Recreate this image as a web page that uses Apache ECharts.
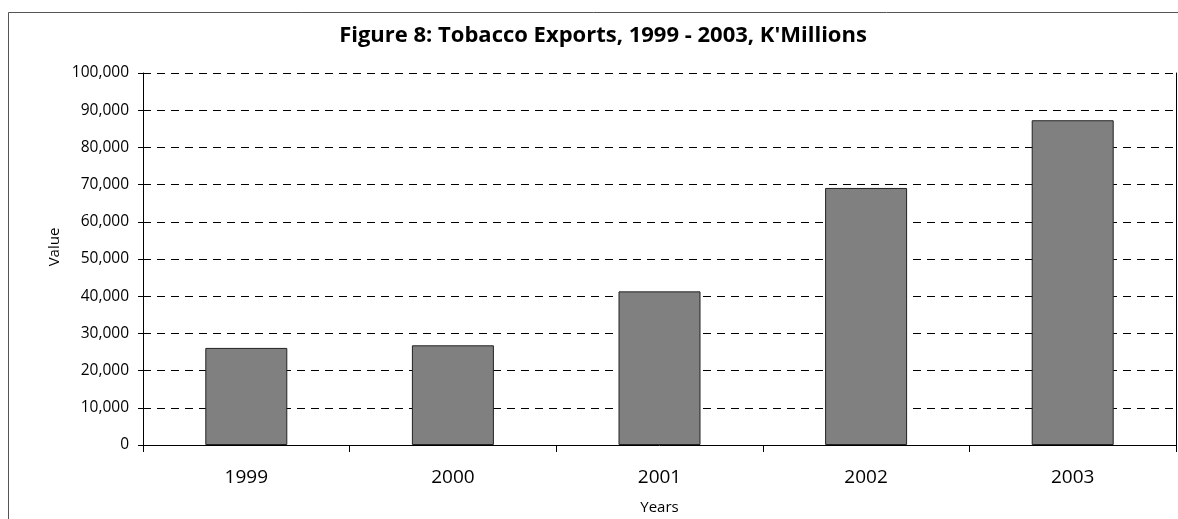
<!DOCTYPE html>
<html>
<head>
<meta charset="utf-8">
<title>Figure 8: Tobacco Exports, 1999 - 2003, K'Millions</title>
<script src="https://cdn.jsdelivr.net/npm/echarts@6/dist/echarts.min.js"></script>
<style>
  html, body { margin: 0; padding: 0; background: #fff; }
  #chart { width: 1178px; height: 519px; }
</style>
</head>
<body>
<div id="chart"></div>
<script>
// Tobacco export values by year (K'Millions)
const years = ['1999', '2000', '2001', '2002', '2003'];
const exportValues = [26100, 26800, 41300, 69100, 87300];
const titleText = "Figure 8: Tobacco Exports, 1999 - 2003, K'Millions";
const yAxisName = 'Value';
const xAxisName = 'Years';

const font = '"Open Sans", "Noto Sans", sans-serif';
const chart = echarts.init(document.getElementById('chart'));

chart.setOption({
  animation: false,
  backgroundColor: '#fff',
  title: {
    text: titleText,
    left: 598,
    textAlign: 'center',
    top: 20,
    textStyle: { fontFamily: font, fontSize: 22, fontWeight: 'bold', color: '#000' }
  },
  graphic: [{
    type: 'rect',
    shape: { x: 8.5, y: 12.5, width: 1200, height: 600 },
    style: { fill: 'none', stroke: '#555', lineWidth: 1 },
    silent: true
  }, {
    // rotated y-axis title
    type: 'text',
    x: 55,
    y: 247,
    rotation: Math.PI / 2,
    style: {
      text: yAxisName,
      fontFamily: font,
      fontSize: 15,
      fill: '#000',
      align: 'center',
      verticalAlign: 'middle'
    },
    silent: true
  }],
  grid: { left: 143, top: 73, right: 2, height: 372, outerBoundsMode: 'none' },
  xAxis: {
    type: 'category',
    data: years,
    name: xAxisName,
    nameLocation: 'middle',
    nameGap: 55,
    nameTextStyle: { fontFamily: font, fontSize: 15, color: '#000', verticalAlign: 'top' },
    axisLine: { lineStyle: { color: '#000', width: 1 } },
    axisTick: { show: true, length: 7, lineStyle: { color: '#000' } },
    axisLabel: { fontFamily: font, fontSize: 19, color: '#000', margin: 23 }
  },
  yAxis: [{
    type: 'value',
    min: 0,
    max: 100000,
    interval: 10000,
    axisLine: { show: true, lineStyle: { color: '#000', width: 1 } },
    axisTick: { show: true, length: 5, lineStyle: { color: '#000' } },
    axisLabel: {
      fontFamily: font, fontSize: 15.5, color: '#000', margin: 14,
      formatter: v => v.toLocaleString('en-US')
    },
    splitLine: { show: true, lineStyle: { color: '#000', type: [8, 6], width: 1 } }
  }, {
    type: 'value',
    position: 'right',
    min: 0,
    max: 100000,
    interval: 10000,
    axisLine: { show: true, lineStyle: { color: '#000', width: 1 } },
    axisTick: { show: false },
    axisLabel: { show: false },
    splitLine: { show: false }
  }],
  series: [{
    type: 'bar',
    data: exportValues,
    barWidth: 82,
    itemStyle: { color: '#808080', borderColor: '#222', borderWidth: 1 }
  }]
});
</script>
</body>
</html>
